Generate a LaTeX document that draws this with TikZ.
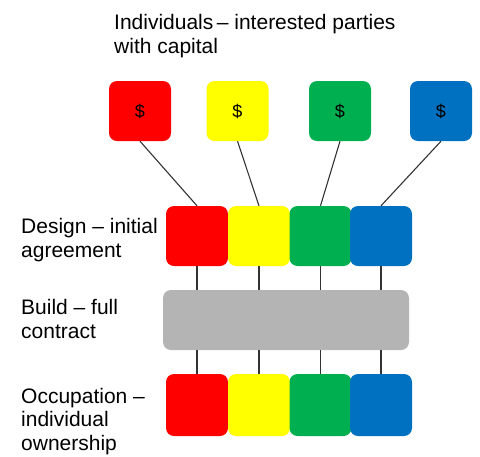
\documentclass[tikz,border=0pt]{standalone}
\usepackage{fontspec}
\setmainfont{Liberation Sans}
\definecolor{cred}{HTML}{FF0000}
\definecolor{cyellow}{HTML}{FFFF00}
\definecolor{cgreen}{HTML}{00B050}
\definecolor{cblue}{HTML}{0070C0}
\definecolor{cgray}{HTML}{B4B4B4}
\definecolor{wire}{HTML}{333333}
\tikzset{
  tile/.style={rounded corners=8pt, inner sep=0pt, minimum width=62pt, minimum height=60pt, draw=none},
  cash/.style={tile, font=\fontsize{18}{20}\selectfont},
  label/.style={anchor=base west, align=left, inner sep=0pt, font=\fontsize{21}{23.5}\selectfont},
  link/.style={draw=wire, line width=1.1pt}
}
\begin{document}
\begin{tikzpicture}[x=1pt,y=-1pt]
\useasboundingbox (0,0) rectangle (480,456);

% capital holders
\node[cash, fill=cred]    (c1) at (140,111) {\$};
\node[cash, fill=cyellow] (c2) at (237.5,111) {\$};
\node[cash, fill=cgreen]  (c3) at (340,111) {\$};
\node[cash, fill=cblue]   (c4) at (441,111) {\$};

% design stage
\node[tile, fill=cred]    (d1) at (197,236) {};
\node[tile, fill=cyellow] (d2) at (259,236) {};
\node[tile, fill=cgreen]  (d3) at (320.5,236) {};
\node[tile, fill=cblue]   (d4) at (381,236) {};

% build stage
\node[tile, fill=cgray, minimum width=246pt] (b) at (286,320) {};

% occupation stage
\node[tile, fill=cred,    minimum height=62pt] (o1) at (197,405) {};
\node[tile, fill=cyellow, minimum height=62pt] (o2) at (259,405) {};
\node[tile, fill=cgreen,  minimum height=62pt] (o3) at (320.5,405) {};
\node[tile, fill=cblue,   minimum height=62pt] (o4) at (381,405) {};

% connectors
\draw[link] (c1.south) -- (d1.north);
\draw[link] (c2.south) -- (d2.north);
\draw[link] (c3.south) -- (d3.north);
\draw[link] (c4.south) -- (d4.north);
\foreach \i in {1,...,4} {
  \draw[link] (d\i.south) -- (d\i.south |- b.north);
  \draw[link] (o\i.north |- b.south) -- (o\i.north);
}

% stage labels (anchored at the baseline of the last line)
\node[label] (t0) at (114,53) {Individuals\,– interested parties\\with capital};
\node[label] (t1) at (21,257) {Design – initial\\agreement};
\node[label] (t2) at (21,338) {Build – full\\contract};
\node[label] (t3) at (21,450) {Occupation –\\individual\\ownership};
\end{tikzpicture}
\end{document}
